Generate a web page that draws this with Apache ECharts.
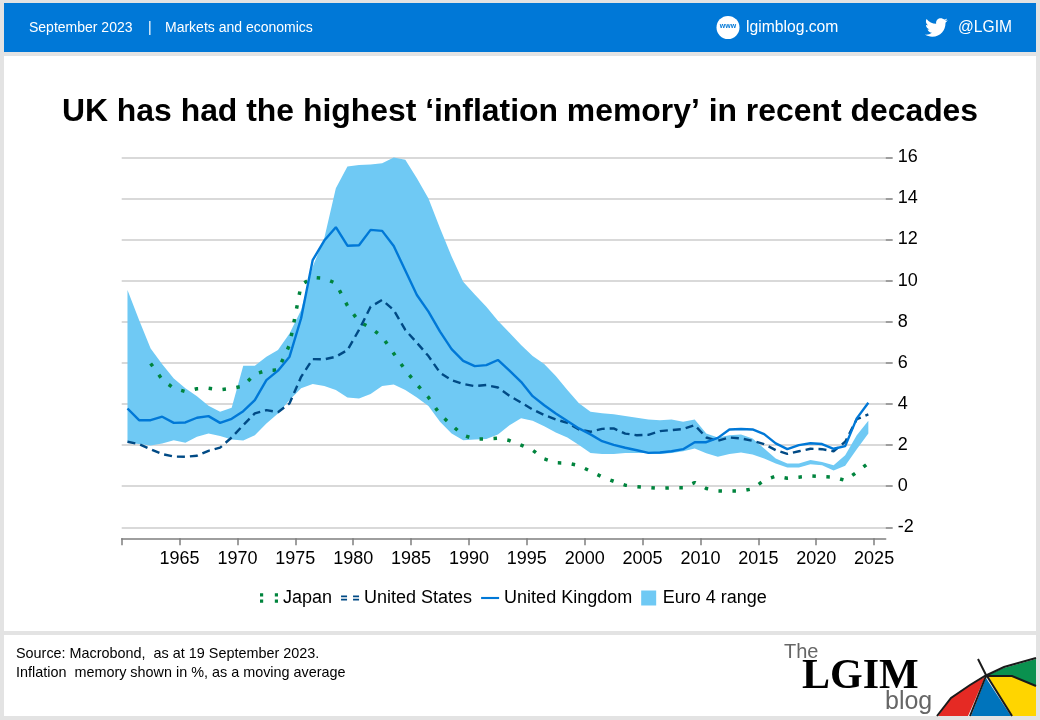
<!DOCTYPE html>
<html>
<head>
<meta charset="utf-8">
<title>UK inflation memory</title>
<script src="https://cdn.jsdelivr.net/npm/echarts@6/dist/echarts.min.js"></script>
<style>
html,body{margin:0;padding:0;background:#e3e3e3;}
#chart{width:1040px;height:720px;}
</style>
</head>
<body>
<div id="chart"></div>
<script>
var years=[1960.5,1961.5,1962.5,1963.5,1964.5,1965.5,1966.5,1967.5,1968.5,1969.5,
1970.5,1971.5,1972.5,1973.5,1974.5,1975.5,1976.5,1977.5,1978.5,1979.5,
1980.5,1981.5,1982.5,1983.5,1984.5,1985.5,1986.5,1987.5,1988.5,1989.5,
1990.5,1991.5,1992.5,1993.5,1994.5,1995.5,1996.5,1997.5,1998.5,1999.5,
2000.5,2001.5,2002.5,2003.5,2004.5,2005.5,2006.5,2007.5,2008.5,2009.5,
2010.5,2011.5,2012.5,2013.5,2014.5,2015.5,2016.5,2017.5,2018.5,2019.5,
2020.5,2021.5,2022.5,2023.5,2024.5];
var euroHigh=[9.55,8.08,6.7,5.93,5.24,4.76,4.38,3.91,3.62,3.81,
5.86,5.86,6.3,6.62,7.43,8.57,10.68,12.06,14.5,15.55,
15.63,15.65,15.71,15.99,15.88,14.98,14.0,12.55,11.17,9.95,
9.33,8.73,8.05,7.47,6.87,6.33,5.94,5.36,4.68,4.03,
3.62,3.55,3.5,3.41,3.33,3.25,3.21,3.25,3.13,3.25,
2.56,2.37,2.48,2.52,2.32,1.83,1.35,1.1,1.1,1.27,
1.18,1.02,1.51,2.48,3.18];
var euroLow=[2.11,2.05,1.98,2.08,2.24,2.11,2.4,2.56,2.44,2.27,
2.22,2.48,3.05,3.54,4.19,4.76,4.97,4.87,4.68,4.32,
4.27,4.48,4.87,4.95,4.68,4.32,3.9,3.13,2.56,2.24,
2.27,2.3,2.52,2.97,3.3,3.18,2.92,2.61,2.37,2.0,
1.61,1.57,1.56,1.61,1.62,1.61,1.57,1.62,1.7,1.83,
1.6,1.43,1.56,1.64,1.54,1.35,1.1,0.91,0.91,1.07,
1.02,0.76,1.0,1.8,2.56];
var ukValues=[3.78,3.21,3.21,3.38,3.08,3.1,3.33,3.41,3.08,3.28,
3.65,4.19,5.16,5.62,6.3,8.17,11.0,11.95,12.6,11.7,
11.72,12.47,12.42,11.69,10.49,9.3,8.49,7.52,6.67,6.1,
5.84,5.89,6.14,5.62,5.08,4.38,3.94,3.54,3.17,2.81,
2.52,2.19,2.01,1.87,1.75,1.62,1.64,1.7,1.8,2.14,
2.14,2.35,2.76,2.78,2.76,2.53,2.08,1.8,2.0,2.09,
2.05,1.82,1.95,3.3,4.06];
var usValues=[2.16,2.05,1.8,1.56,1.44,1.43,1.48,1.72,1.88,2.37,
2.97,3.54,3.7,3.6,4.03,5.32,6.18,6.17,6.3,6.62,
7.6,8.73,9.06,8.57,7.6,6.98,6.33,5.52,5.16,4.97,
4.87,4.92,4.8,4.4,4.07,3.73,3.46,3.25,3.08,2.76,
2.65,2.79,2.81,2.56,2.48,2.5,2.68,2.73,2.78,2.97,
2.37,2.21,2.37,2.32,2.21,2.05,1.75,1.57,1.7,1.82,
1.8,1.7,2.16,3.26,3.49];
var japanValues=[null,null,5.97,5.19,4.76,4.6,4.74,4.77,4.69,4.76,
4.87,5.45,5.63,5.65,6.87,9.79,10.16,10.11,9.87,8.78,
8.0,7.71,7.27,6.46,5.65,4.95,4.32,3.49,2.97,2.48,
2.29,2.3,2.34,2.22,2.0,1.75,1.33,1.14,1.12,1.0,
0.73,0.45,0.24,0.05,-0.02,-0.06,-0.1,-0.08,-0.08,0.18,
-0.11,-0.23,-0.24,-0.24,-0.13,0.29,0.49,0.39,0.44,0.5,
0.47,0.44,0.28,0.68,1.12];
var tickYears=[1960,1965,1970,1975,1980,1985,1990,1995,2000,2005,2010,2015,2020,2025];
var labelYears=[1965,1970,1975,1980,1985,1990,1995,2000,2005,2010,2015,2020,2025];

function pairs(vals){
	var out=[];
	for(var i=0;i<years.length;i++){
		out.push([years[i],vals[i]]);
	}
	return out;
}

var FONT='"Liberation Sans",Arial,sans-serif';
var BAND='#6fc9f4';
var twitterPath='M23.954 4.569c-.885.389-1.83.654-2.825.775 1.014-.611 1.794-1.574 2.163-2.723-.951.555-2.005.959-3.127 1.184-.896-.959-2.173-1.559-3.591-1.559-2.717 0-4.92 2.203-4.92 4.917 0 .39.045.765.127 1.124C7.691 8.094 4.066 6.13 1.64 3.161c-.427.722-.666 1.561-.666 2.475 0 1.71.87 3.213 2.188 4.096-.807-.026-1.566-.248-2.228-.616v.061c0 2.385 1.693 4.374 3.946 4.827-.413.111-.849.171-1.296.171-.314 0-.615-.03-.916-.086.631 1.953 2.445 3.377 4.604 3.417-1.68 1.319-3.809 2.105-6.102 2.105-.39 0-.779-.023-1.17-.067 2.189 1.394 4.768 2.209 7.557 2.209 9.054 0 13.999-7.496 13.999-13.986 0-.209 0-.42-.015-.63.961-.689 1.8-1.56 2.46-2.548l-.047-.02z';
echarts.graphic.registerShape('twitterBird',echarts.graphic.extendPath(twitterPath,{}));

function label(x,y,text,size,color,extra){
	var style={x:x,y:y,text:text,fill:color||'#000',font:(extra&&extra.weight||'normal')+' '+size+'px '+(extra&&extra.family||FONT),textVerticalAlign:'middle',textAlign:extra&&extra.align||'left'};
	return {type:'text',z:20,silent:true,style:style};
}
function poly(points,fill){
	return {type:'polygon',z:15,silent:true,shape:{points:points},style:{fill:fill}};
}
function stroke(points,width){
	return {type:'polyline',z:16,silent:true,shape:{points:points},style:{stroke:'#1a1a1a',lineWidth:width,fill:null}};
}

var shapes=[
	{type:'rect',z:-10,silent:true,shape:{x:4,y:3,width:1032,height:49},style:{fill:'#0078d7'}},
	{type:'rect',z:-10,silent:true,shape:{x:4,y:56,width:1032,height:575},style:{fill:'#fff'}},
	{type:'rect',z:-10,silent:true,shape:{x:4,y:635,width:1032,height:81},style:{fill:'#fff'}},
	label(29,28,'September 2023',14,'#fff'),
	label(148,28,'|',14,'#fff'),
	label(165,28,'Markets and economics',14,'#fff'),
	{type:'circle',z:15,silent:true,shape:{cx:728,cy:27.5,r:11.5},style:{fill:'#fff'}},
	label(728,26.5,'www',7,'#0078d7',{weight:'bold',align:'center'}),
	label(746,28,'lgimblog.com',15.7,'#fff'),
	{type:'twitterBird',z:15,silent:true,x:925,y:16,scaleX:0.95,scaleY:0.95,style:{fill:'#fff'}},
	label(958,28,'@LGIM',15.6,'#fff'),
	label(16,654,'Source: Macrobond,  as at 19 September 2023.',14.4,'#000'),
	label(16,673,'Inflation  memory shown in %, as a moving average',14.4,'#000'),
	label(784,652,'The',20,'#666'),
	label(802,677,'LGIM',42,'#000',{weight:'bold',family:'"Liberation Serif",serif'}),
	label(885,702,'blog',25,'#666'),
	poly([[938,716],[951,698],[970,685],[985,677],[968,716]],'#e52a24'),
	poly([[986,678],[971,716],[1011,716]],'#0074bc'),
	poly([[988,676],[1012,676],[1036,686],[1036,716],[1012,716]],'#ffd500'),
	poly([[988,675],[1004,668],[1036,659],[1036,686],[1012,676]],'#0a914f'),
	stroke([[937,716],[951,698],[970,685],[985,676],[1004,667],[1036,658]],2),
	stroke([[978,659],[987,677]],2),
	stroke([[986,676],[970,716]],2),
	stroke([[987,676],[1012,716]],2),
	stroke([[987,676],[1012,676],[1036,686]],2)
];

// band is one polygon, upper edge forward then lower edge back
function renderBand(params,api){
	var pts=[];
	var i;
	for(i=0;i<years.length;i++){
		pts.push(api.coord([years[i],euroHigh[i]]));
	}
	for(i=years.length-1;i>=0;i--){
		pts.push(api.coord([years[i],euroLow[i]]));
	}
	return {type:'polygon',shape:{points:pts},style:{fill:BAND}};
}

var chart=echarts.init(document.getElementById('chart'));
chart.setOption({
	animation:false,
	backgroundColor:'#e3e3e3',
	textStyle:{fontFamily:FONT},
	title:{
		text:'UK has had the highest \u2018inflation memory\u2019 in recent decades',
		left:515,textAlign:'center',top:91,
		textStyle:{fontFamily:FONT,fontSize:31.9,fontWeight:'bold',color:'#000'}
	},
	legend:{
		left:260,top:589,padding:0,itemWidth:18,itemHeight:15,itemGap:9,
		textStyle:{fontFamily:FONT,fontSize:18,color:'#000',padding:[1,0,0,0]},
		data:[
			{name:'Japan',icon:'path://M0 0H3V3H0ZM0 6H3V9H0ZM14 0H17V3H14ZM14 6H17V9H14Z'},
			{name:'United States',icon:'path://M0 0H7V2H0ZM0 4H7V6H0ZM14 0H21V2H14ZM14 4H21V6H14Z'},
			{name:'United Kingdom',icon:'path://M0 0H17V2H0Z'},
			{name:'Euro 4 range',icon:'path://M0 0H10V10H0Z'}
		]
	},
	grid:{left:121.7,right:154.3,top:157.3,height:370},
	xAxis:{
		type:'value',min:1960,max:2026,offset:11,
		splitLine:{show:false},
		axisLine:{show:true,onZero:false,lineStyle:{color:'#7f7f7f',width:1.5}},
		axisTick:{show:true,length:7,customValues:tickYears,lineStyle:{color:'#7f7f7f',width:1.5}},
		axisLabel:{customValues:labelYears,fontFamily:FONT,fontSize:18,color:'#000',margin:12,
			formatter:function(v){return String(v);}}
	},
	yAxis:{
		type:'value',position:'right',min:-2,max:16,interval:2,
		axisLine:{show:false},
		axisTick:{show:true,length:7,lineStyle:{color:'#7f7f7f',width:1.5}},
		axisLabel:{fontFamily:FONT,fontSize:18,color:'#000',margin:12},
		splitLine:{lineStyle:{color:'#d9d9d9',width:2}}
	},
	graphic:{elements:shapes},
	series:[
		{name:'Euro 4 range',type:'custom',renderItem:renderBand,data:[[years[0],euroLow[0]]],
			itemStyle:{color:BAND},z:1},
		{name:'Japan',type:'line',data:pairs(japanValues),symbol:'none',z:3,
			itemStyle:{color:'#00843d'},
			lineStyle:{color:'#00843d',width:3.5,type:[3.5,10.5]}},
		{name:'United States',type:'line',data:pairs(usValues),symbol:'none',z:4,
			itemStyle:{color:'#004a85'},
			lineStyle:{color:'#004a85',width:2.4,type:[8,5]}},
		{name:'United Kingdom',type:'line',data:pairs(ukValues),symbol:'none',z:5,
			itemStyle:{color:'#0078d7'},
			lineStyle:{color:'#0078d7',width:2.4}}
	]
});
</script>
</body>
</html>
